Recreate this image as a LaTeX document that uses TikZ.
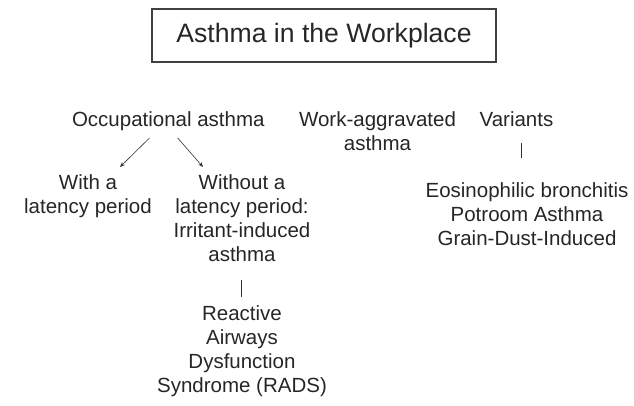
\documentclass[tikz,border=0pt]{standalone}
\usepackage{fontspec}
\setmainfont{Liberation Sans}
\usetikzlibrary{arrows.meta}
\begin{document}
\begin{tikzpicture}[x=1pt,y=-1pt,
  lbl/.style={font=\fontsize{20.5}{24}\selectfont, align=center, inner sep=0pt, anchor=base, text=black!85},
  ttl/.style={draw=black!75, line width=1.2pt, minimum width=344pt, minimum height=53pt, inner sep=0pt,
     font=\fontsize{26.6}{30}\selectfont, text=black!85},
  conn/.style={draw=black!80, line width=0.6pt},
  arr/.style={conn, -{Stealth[length=5pt,width=4pt]}}]
\useasboundingbox (0,0) rectangle (634,406);
\node[ttl] (title) at (324,35.5) {Asthma in the Workplace};
\node[lbl] (occ) at (168.3,127) {Occupational asthma};
\node[lbl] (wag) at (377.5,151) {Work-aggravated\\asthma};
\node[lbl] (var) at (516.5,127) {Variants};
\node[lbl] (with) at (88,213) {With a\\latency period};
\node[lbl] (without) at (242,261) {Without a\\latency period:\\Irritant-induced\\asthma};
\node[lbl] (rads) at (242,392) {Reactive\\Airways\\Dysfunction\\Syndrome (RADS)};
\node[lbl] (eos) at (527,245) {Eosinophilic bronchitis\\Potroom Asthma\\Grain-Dust-Induced};
\coordinate (a1s) at (149.5,138); \coordinate (a1e) at (120,167);
\coordinate (a2s) at (177.7,138); \coordinate (a2e) at (203,167);
\draw[arr] (a1s) -- (a1e);
\draw[arr] (a2s) -- (a2e);
\coordinate (b1s) at (241.7,280); \coordinate (b1e) at (241.7,297);
\draw[conn] (b1s) -- (b1e);
\coordinate (b2s) at (521.7,143); \coordinate (b2e) at (521.7,158);
\draw[conn] (b2s) -- (b2e);
\end{tikzpicture}
\end{document}
